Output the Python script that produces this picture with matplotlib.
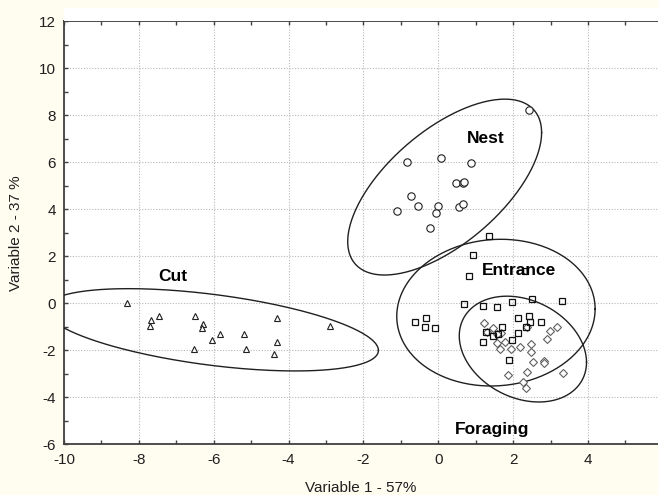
import numpy as np
import matplotlib
matplotlib.use("Agg")
import matplotlib.pyplot as plt
from matplotlib.patches import Rectangle

plt.rcParams['font.family'] = ['Liberation Sans Narrow', 'Liberation Sans', 'DejaVu Sans']

# ---- data ----
cut_x = [-8.32, -7.67, -7.71, -7.46, -6.50, -6.30, -6.32, -6.54, -6.04, -5.83,
         -5.18, -5.14, -4.32, -4.32, -4.39, -2.89]
cut_y = [0.00, -0.70, -0.98, -0.55, -0.55, -0.87, -1.05, -1.96, -1.55, -1.29,
         -1.29, -1.96, -0.61, -1.65, -2.14, -0.98]

nest_x = [2.42, -0.84, 0.07, 0.87, 0.48, 0.67, 0.69, -0.72, -0.54, -1.10,
          -0.02, -0.05, 0.55, 0.65, -0.22]
nest_y = [8.21, 5.99, 6.16, 5.95, 5.10, 5.11, 5.15, 4.55, 4.15, 3.91,
          4.15, 3.85, 4.08, 4.20, 3.21]

entr_x = [1.35, 0.94, 0.81, 2.31, 0.70, 1.20, 1.56, 1.98, 2.51, 3.31,
          -0.63, -0.33, -0.36, -0.10, 2.12, 2.42, 2.45, 2.74, 2.33, 1.71,
          2.12, 1.97, 1.19, 1.89, 1.45, 1.60, 1.27]
entr_y = [2.86, 2.04, 1.16, 1.38, -0.03, -0.12, -0.17, 0.06, 0.18, 0.11,
          -0.81, -0.63, -1.01, -1.07, -0.64, -0.54, -0.79, -0.81, -1.03, -1.03,
          -1.25, -1.56, -1.66, -2.41, -1.38, -1.32, -1.22]

forg_x = [1.23, 1.29, 1.47, 1.67, 1.56, 1.65, 1.79, 1.94, 2.18, 2.47,
          2.47, 2.36, 2.54, 2.83, 2.83, 2.90, 2.98, 3.16, 2.36, 1.87,
          2.27, 2.33, 3.32, 1.58]
forg_y = [-0.86, -1.24, -1.07, -1.25, -1.70, -1.96, -1.64, -1.96, -1.85, -1.73,
          -2.09, -1.03, -2.50, -2.46, -2.56, -1.53, -1.18, -1.01, -2.91, -3.04,
          -3.34, -3.59, -2.98, -1.31]

# confidence ellipses: centre, x-spread, y-spread, correlation
ell_names = ["Cut", "Nest", "Entrance", "Foraging"]
ell_cx = [-6.05, 0.17, 1.54, 2.26]
ell_cy = [-1.13, 4.94, -0.40, -1.95]
ell_sx = [4.45, 2.59, 2.65, 1.70]
ell_sy = [1.75, 3.74, 3.12, 2.25]
ell_r = [-0.50, 0.62, 0.05, -0.25]

# group labels
lab_text = ["Cut", "Nest", "Entrance", "Foraging"]
lab_x = [-7.09, 1.26, 2.15, 1.44]
lab_y = [0.96, 6.81, 1.20, -5.56]

x_ticks = [-10, -8, -6, -4, -2, 0, 2, 4]
y_ticks = [-6, -4, -2, 0, 2, 4, 6, 8, 10, 12]

# ---- figure ----
bg = '#FFFCF0'
fig = plt.figure(figsize=(6.58, 4.95), dpi=100, facecolor=bg)
# white band of the plot area above the top frame line
fig.patches.append(Rectangle((64 / 658, 1 - 21 / 495), 1 - 64 / 658, 13 / 495,
                             transform=fig.transFigure, facecolor='white',
                             edgecolor='none', zorder=0))
ax = fig.add_axes([0.0973, 0.1024, 0.9027, 0.855])
ax.set_facecolor('white')

ax.set_xlim(-10, 5.87)
ax.set_ylim(-6, 12)
ax.set_xticks(x_ticks)
ax.set_yticks(y_ticks)
ax.set_xticks(np.arange(-9, 6, 2), minor=True)
ax.set_yticks(np.arange(-5, 12, 2), minor=True)
ax.set_xticklabels([str(v) for v in x_ticks])
ax.set_yticklabels([str(v) for v in y_ticks])

ax.grid(True, which='major', linestyle=(0, (1, 1.5)), color='#b8b8b8', linewidth=0.8)
ax.set_axisbelow(True)

spine_c = '#404040'
for s in ['left', 'bottom', 'top']:
    ax.spines[s].set_color(spine_c)
    ax.spines[s].set_linewidth(1.3)
ax.spines['right'].set_visible(False)

ax.tick_params(which='both', direction='in', length=3, width=1, color=spine_c,
               top=True, bottom=True, left=True, right=False,
               labelsize=11, labelcolor='#202020')
ax.tick_params(axis='x', which='major', pad=6)
ax.tick_params(axis='y', which='major', pad=6)

# ellipses
t = np.linspace(0, 2 * np.pi, 300)
for cx, cy, sx, sy, r in zip(ell_cx, ell_cy, ell_sx, ell_sy, ell_r):
    ex = cx + sx * np.cos(t)
    ey = cy + sy * (r * np.cos(t) + np.sqrt(1 - r * r) * np.sin(t))
    ax.plot(ex, ey, color='#202020', linewidth=1.0, zorder=3)

# points
ax.plot(cut_x, cut_y, linestyle='none', marker='^', markersize=4.5,
        markerfacecolor='white', markeredgecolor='#202020', markeredgewidth=0.8, zorder=4)
ax.plot(nest_x, nest_y, linestyle='none', marker='o', markersize=5.3,
        markerfacecolor='white', markeredgecolor='#202020', markeredgewidth=0.8, zorder=4)
ax.plot(forg_x, forg_y, linestyle='none', marker='D', markersize=3.6,
        markerfacecolor='white', markeredgecolor='#606060', markeredgewidth=0.8, zorder=4)
ax.plot(entr_x, entr_y, linestyle='none', marker='s', markersize=4.6,
        markerfacecolor='none', markeredgecolor='#101010', markeredgewidth=0.9, zorder=5)

for txt, lx, ly in zip(lab_text, lab_x, lab_y):
    ax.text(lx, ly, txt, ha='center', va='baseline', fontsize=12.5, fontweight='bold',
            family=['Liberation Sans', 'DejaVu Sans'], color='#000000', zorder=6)

ax.set_xlabel('Variable 1 - 57%', fontsize=11, color='#202020', labelpad=10)
ax.set_ylabel('Variable 2 - 37 %', fontsize=11, color='#202020', labelpad=11)

fig.savefig('out.png', dpi=100, facecolor=bg)
